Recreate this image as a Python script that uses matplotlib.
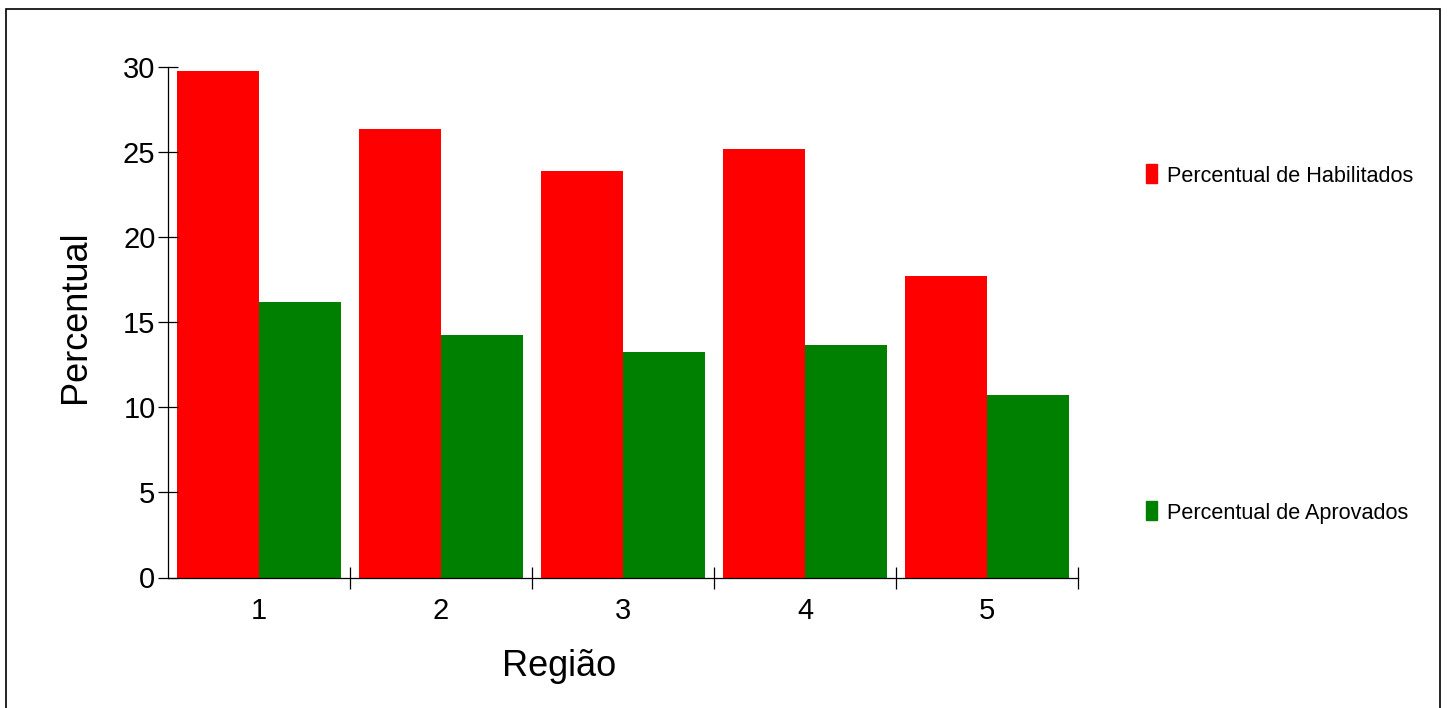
import matplotlib.pyplot as plt
import matplotlib.patches as mpatches
import numpy as np

plt.rcParams['font.family'] = ['Liberation Sans', 'DejaVu Sans']

regioes = ['1', '2', '3', '4', '5']
habilitados = [29.76, 26.34, 23.87, 25.16, 17.70]
aprovados = [16.16, 14.24, 13.26, 13.63, 10.72]
series_labels = ['Percentual de Habilitados', 'Percentual de Aprovados']
cores = ['#ff0000', '#008000']
yticks = [0, 5, 10, 15, 20, 25, 30]

W, H = 1450, 708
fig = plt.figure(figsize=(W / 100, H / 100), dpi=100)
ax = fig.add_axes([168 / W, 1 - 577.5 / H, (1078 - 168) / W, (577.5 - 66.5) / H])

x = np.arange(1, len(regioes) + 1)
bw = 82 / 182
ax.bar(x - bw / 2, habilitados, width=bw, color=cores[0])
ax.bar(x + bw / 2, aprovados, width=bw, color=cores[1])

ax.set_xlim(0.5, len(regioes) + 0.5)
ax.set_ylim(0, 30)
ax.spines['top'].set_visible(False)
ax.spines['right'].set_visible(False)
for s in ['left', 'bottom']:
    ax.spines[s].set_linewidth(0.9)

ax.set_yticks(yticks)
ax.tick_params(axis='y', direction='inout', length=15, width=0.9, pad=1.5, labelsize=21)
ax.set_xticks(x)
ax.set_xticklabels(regioes)
ax.tick_params(axis='x', which='major', length=0, pad=14, labelsize=21)
ax.set_xticks(np.arange(1.5, len(regioes) + 1, 1), minor=True)
ax.tick_params(axis='x', which='minor', direction='inout', length=16.5, width=0.9)

fig.text(559 / W, 1 - 667 / H, 'Região', fontsize=26, ha='center', va='center')
fig.text(76 / W, 1 - 317 / H, 'Percentual', fontsize=26, ha='center', va='center', rotation=90)

# legenda manual
leg_y = [173, 510]
for lab, cor, yy in zip(series_labels, cores, leg_y):
    fig.add_artist(mpatches.Rectangle((1146 / W, 1 - (yy + 9.5) / H), 11 / W, 19 / H,
                                      transform=fig.transFigure, color=cor))
    fig.text(1167 / W, 1 - (yy + 3) / H, lab, fontsize=15.6, ha='left', va='center')

# moldura
fig.add_artist(mpatches.Rectangle((6 / W, -0.05), (1440 - 6) / W, 1.05 - 9 / H,
                                  transform=fig.transFigure, fill=False,
                                  edgecolor='black', linewidth=1.2, clip_on=False))

fig.savefig('out.png', dpi=100)
